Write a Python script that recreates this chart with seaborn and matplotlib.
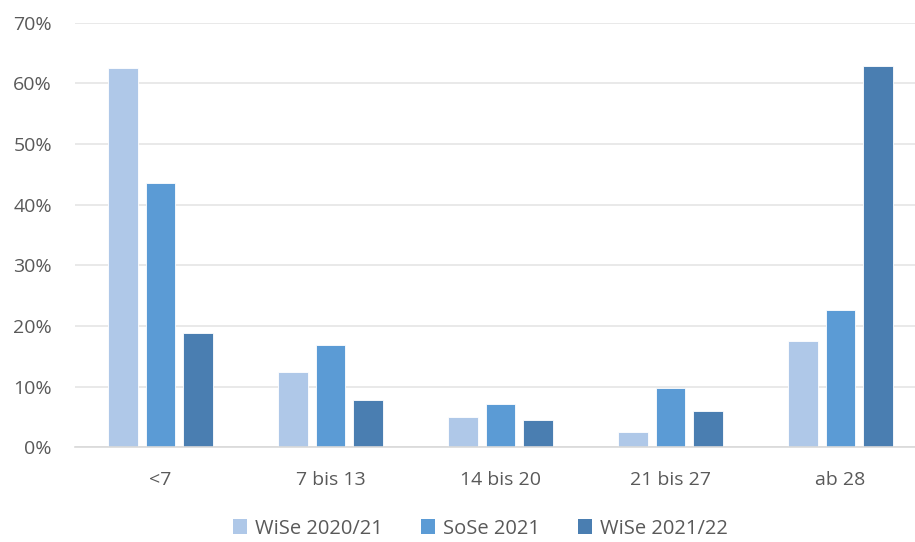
import pandas as pd
import matplotlib.pyplot as plt
import seaborn as sns
from matplotlib.ticker import PercentFormatter
from matplotlib.patches import Patch

categories = ["<7", "7 bis 13", "14 bis 20", "21 bis 27", "ab 28"]
semesters = ["WiSe 2020/21", "SoSe 2021", "WiSe 2021/22"]
wise_2020 = [62.5, 12.4, 5.0, 2.5, 17.5]
sose_2021 = [43.6, 16.8, 7.1, 9.7, 22.6]
wise_2021 = [18.8, 7.8, 4.5, 5.9, 62.9]

colors = ["#AFC8E8", "#5B9BD5", "#4A7EB1"]
text_color = "#595959"

# long format for seaborn
df = pd.DataFrame({
    "Kategorie": categories * 3,
    "Semester": [semesters[0]] * 5 + [semesters[1]] * 5 + [semesters[2]] * 5,
    "Anteil": wise_2020 + sose_2021 + wise_2021,
})

sns.set_style("white")
plt.rcParams['font.family'] = ['Open Sans', 'DejaVu Sans']

fig = plt.figure(figsize=(9.15, 5.42), dpi=100)
# plot area runs a bit past the right edge, as in the original
ax = fig.add_axes([0.0825, 0.175, 0.929, 0.783])

sns.barplot(data=df, x="Kategorie", y="Anteil", hue="Semester",
            order=categories, hue_order=semesters, palette=colors,
            saturation=1, width=0.66, gap=0.2, edgecolor="white",
            linewidth=0.6, legend=False, ax=ax)

ax.set_ylim(0, 70)
ax.set_yticks(range(0, 71, 10))
ax.yaxis.set_major_formatter(PercentFormatter(decimals=0))
ax.set_xlim(-0.5, len(categories) - 0.5)
ax.grid(axis="y", color="#E3E3E3", linewidth=1.1)
ax.set_axisbelow(True)
for s in ["top", "right", "left"]:
    ax.spines[s].set_visible(False)
ax.spines["bottom"].set_color("#D9D9D9")
ax.spines["bottom"].set_linewidth(1.2)
ax.tick_params(axis="y", length=0, pad=17, labelsize=14, labelcolor=text_color)
ax.tick_params(axis="x", length=0, pad=17, labelsize=14, labelcolor=text_color)
ax.set_xlabel("")
ax.set_ylabel("")

handles = [Patch(facecolor=c, edgecolor="none") for c in colors]
fig.legend(handles, semesters, loc="lower center", bbox_to_anchor=(0.525, -0.027),
           ncol=3, frameon=False, fontsize=14.5, labelcolor=text_color,
           handlelength=0.7, handleheight=0.7, handletextpad=0.4, columnspacing=1.9)

fig.savefig("out.png", dpi=100)
